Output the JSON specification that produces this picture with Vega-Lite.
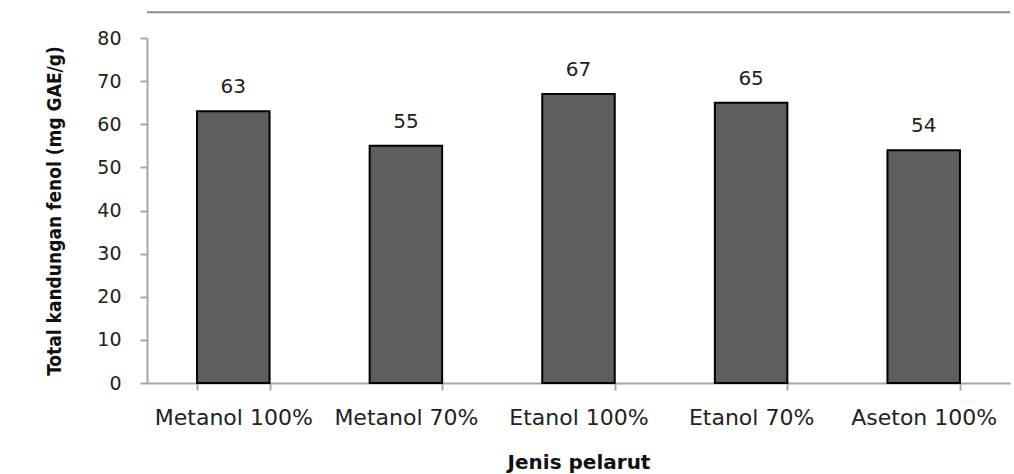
{
  "$schema": "https://vega.github.io/schema/vega-lite/v6.json",
  "autosize": "none",
  "width": 863,
  "height": 345,
  "padding": {"left": 147, "top": 38, "right": 4, "bottom": 91},
  "background": "white",
  "config": {"view": {"stroke": null}},
  "data": {"values": [
    {"pelarut": "Metanol 100%", "fenol": 63},
    {"pelarut": "Metanol 70%", "fenol": 55},
    {"pelarut": "Etanol 100%", "fenol": 67},
    {"pelarut": "Etanol 70%", "fenol": 65},
    {"pelarut": "Aseton 100%", "fenol": 54}
  ]},
  "encoding": {
    "x": {"field": "pelarut", "type": "nominal", "sort": null,
      "scale": {"paddingInner": 0.58, "paddingOuter": 0.29},
      "axis": {"title": "Jenis pelarut", "labelAngle": 0, "tickBand": "extent",
        "domainColor": "#a6a6a6", "domainWidth": 2, "tickColor": "#a6a6a6", "tickWidth": 2, "tickSize": 7,
        "labelFont": "DejaVu Sans", "labelFontSize": 22, "labelColor": "#222222", "labelPadding": 17,
        "titleFont": "DejaVu Sans", "titleFontSize": 20, "titleFontWeight": "bold", "titleColor": "#111111", "titlePadding": 24}},
    "y": {"field": "fenol", "type": "quantitative",
      "scale": {"domain": [0, 80]},
      "axis": {"title": "Total kandungan fenol (mg GAE/g)", "values": [0,10,20,30,40,50,60,70,80], "grid": false,
        "domainColor": "#a6a6a6", "domainWidth": 2, "tickColor": "#a6a6a6", "tickWidth": 2, "tickSize": 7,
        "labelFont": "DejaVu Sans", "labelFontSize": 19, "labelColor": "#222222", "labelPadding": 19,
        "titleFont": "DejaVu Sans Condensed", "titleFontSize": 19, "titleFontWeight": "bold", "titleColor": "#111111", "titlePadding": 32}}
  },
  "layer": [
    {"mark": {"type": "bar", "fill": "#5e5e5e", "stroke": "#000000", "strokeWidth": 2}},
    {"mark": {"type": "text", "baseline": "bottom", "dy": -14, "font": "DejaVu Sans", "fontSize": 20, "color": "#222222"},
      "encoding": {"text": {"field": "fenol", "type": "quantitative"}}},
    {"data": {"values": [{"topline": 86}]},
      "mark": {"type": "rule", "color": "#8c8c8c", "strokeWidth": 2, "clip": false},
      "encoding": {"y": {"field": "topline", "type": "quantitative"}, "x": null}}
  ]
}
